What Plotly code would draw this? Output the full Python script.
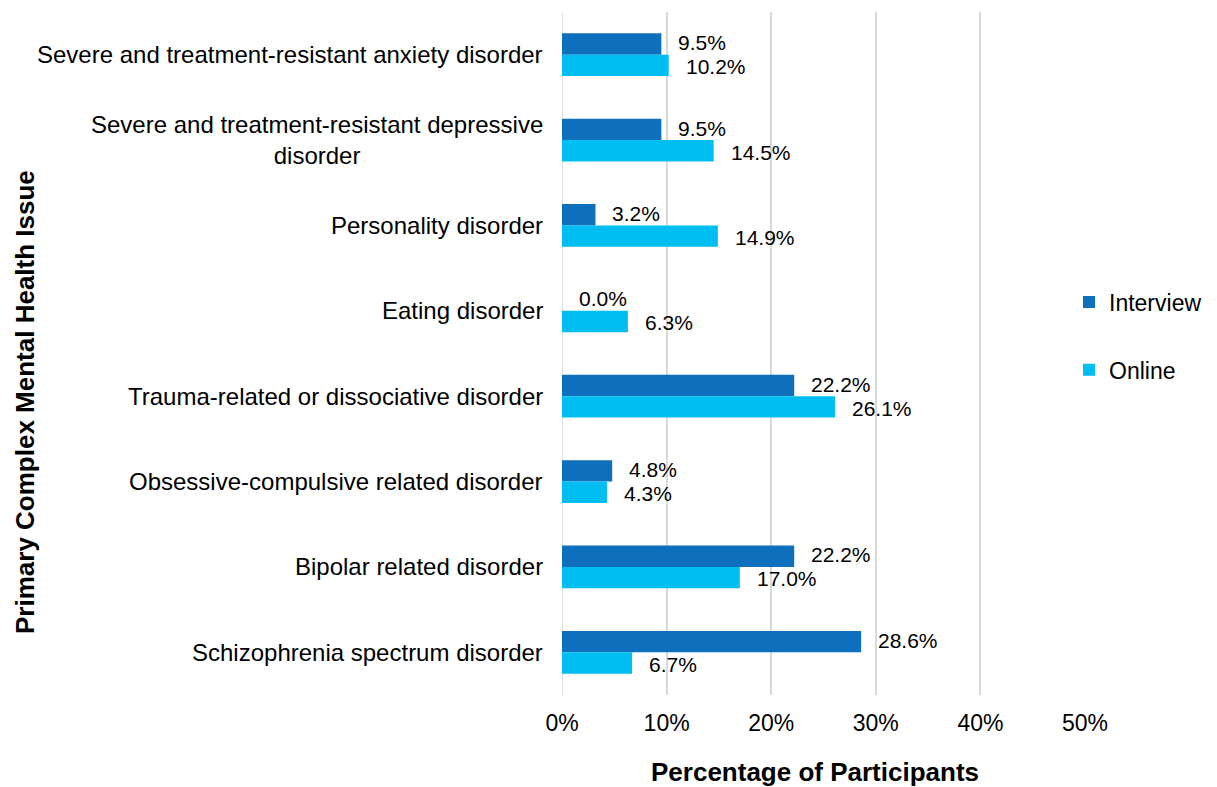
import plotly.graph_objects as go

categories = [
    "Severe and treatment-resistant anxiety disorder",
    "Severe and treatment-resistant depressive<br>disorder",
    "Personality disorder",
    "Eating disorder",
    "Trauma-related or dissociative disorder",
    "Obsessive-compulsive related disorder",
    "Bipolar related disorder",
    "Schizophrenia spectrum disorder",
]
interview = [9.5, 9.5, 3.2, 0.0, 22.2, 4.8, 22.2, 28.6]
online = [10.2, 14.5, 14.9, 6.3, 26.1, 4.3, 17.0, 6.7]
series_names = ["Interview", "Online"]
colors = ["#0E6FBC", "#00BDF2"]
x_ticks = [0, 10, 20, 30, 40, 50]

FONT = "Liberation Sans, Arial, Helvetica, sans-serif"

OFF = 8  # page body margin
W, H = 1217, 787
L, T = 562 - OFF, 12 - OFF
R = W - (1085 - OFF)
B = H - (695 - OFF)
plot_h = H - T - B
plot_w = W - L - R

fig = go.Figure()
for i, (name, vals) in enumerate(zip(series_names, [interview, online])):
    fig.add_trace(go.Bar(
        y=categories, x=vals, name=name, orientation="h",
        marker=dict(color=colors[i], line=dict(width=0)),
        legendgroup=name,
    ))

annotations = []
for i, vals in enumerate([interview, online]):
    ysh = 12 if i == 0 else -12
    for c, v in zip(categories, vals):
        annotations.append(dict(
            x=v, y=c, xref="x", yref="y", text=f"{v:.1f}%",
            showarrow=False, xanchor="left", yanchor="middle",
            xshift=15, yshift=ysh, font=dict(size=21, color="#000000", family=FONT),
        ))
for c in categories:
    annotations.append(dict(
        x=0, y=c, xref="paper", yref="y", text=c, showarrow=False,
        xanchor="right", yanchor="middle", align="center", xshift=-17,
        font=dict(size=24, color="#000000", family=FONT),
    ))
# y-axis title
annotations.append(dict(
    x=0, y=(H - B - (402 - OFF)) / plot_h, xref="paper", yref="paper",
    xshift=-(L - (25 - OFF)), text="<b>Primary Complex Mental Health Issue</b>",
    textangle=-90, showarrow=False, xanchor="center", yanchor="middle",
    font=dict(size=26, color="#000000", family=FONT),
))
# x-axis title
annotations.append(dict(
    x=(815 - OFF - L) / plot_w, y=0, xref="paper", yref="paper",
    yshift=-((772 - OFF) - (H - B)), text="<b>Percentage of Participants</b>",
    showarrow=False, xanchor="center", yanchor="middle",
    font=dict(size=26, color="#000000", family=FONT),
))

fig.update_layout(
    width=W, height=H,
    margin=dict(l=L, r=R, t=T, b=B, autoexpand=False),
    paper_bgcolor="white", plot_bgcolor="white",
    barmode="group", bargap=0.5, bargroupgap=0,
    font=dict(family=FONT, size=22, color="#000000"),
    annotations=annotations,
    legend=dict(x=1 + (-16 / plot_w), y=(H - B - (336 - OFF)) / plot_h, xanchor="left", yanchor="middle",
                font=dict(size=23, family=FONT), tracegroupgap=35,
                itemwidth=30, traceorder="grouped", bgcolor="rgba(0,0,0,0)"),
    xaxis=dict(
        range=[0, 50], tickvals=x_ticks, ticktext=[f"{t}%" for t in x_ticks],
        showgrid=True, gridcolor="#D9D9D9", gridwidth=1.5,
        zeroline=False, showline=False, ticks="", ticklabelstandoff=12,
        tickfont=dict(size=23, family=FONT), automargin=False,
    ),
    yaxis=dict(
        autorange="reversed", showticklabels=False, showgrid=False,
        zeroline=False, showline=False, ticks="", automargin=False,
    ),
)
fig.add_shape(type="line", xref="x", yref="paper", x0=0, x1=0, y0=0, y1=1,
              line=dict(color="#D9D9D9", width=1.5), layer="below")
fig.write_html("out.html")
